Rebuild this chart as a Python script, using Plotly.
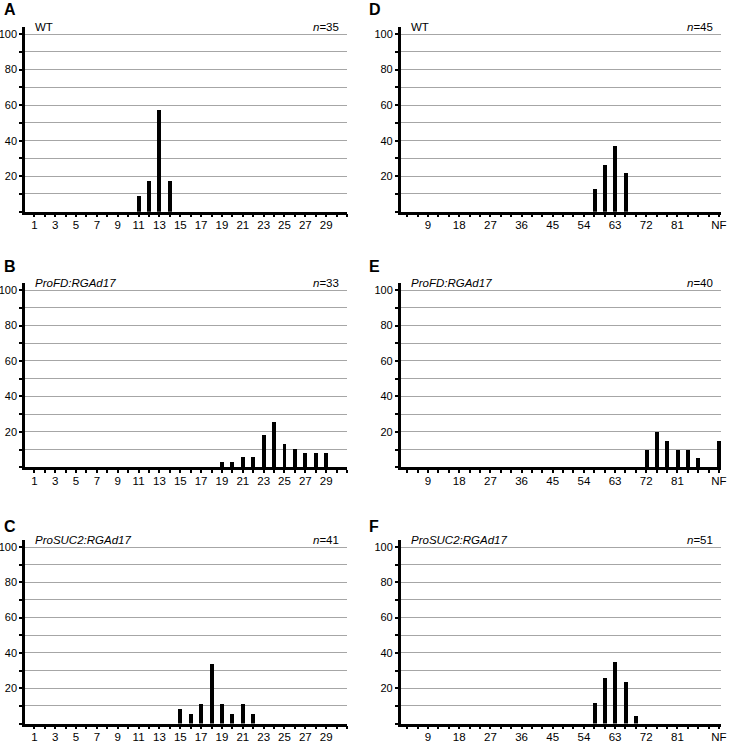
import plotly.graph_objects as go

W, H = 730, 745
FONT = "Arial, Liberation Sans, sans-serif"

# percentage of plants per bin
a_days = [11, 12, 13, 14]
a_pct = [8.6, 17.1, 57.1, 17.1]
b_days = [19, 20, 21, 22, 23, 24, 25, 26, 27, 28, 29]
b_pct = [3.0, 3.0, 5.6, 5.6, 18.0, 25.5, 13.1, 10.6, 8.0, 8.0, 8.0]
c_days = [15, 16, 17, 18, 19, 20, 21, 22]
c_pct = [8.5, 5.6, 11.1, 34.0, 11.1, 5.6, 11.1, 5.6]

d_bins = [57, 60, 63, 66]
d_pct = [12.9, 26.1, 37.1, 22.0]
e_bins = [72, 75, 78, 81, 84, 87, "NF"]
e_pct = [10.0, 20.0, 15.0, 10.0, 10.0, 5.0, 15.0]
f_bins = [57, 60, 63, 66, 69]
f_pct = [11.9, 25.6, 35.0, 23.5, 4.0]

left_ticks = [1, 3, 5, 7, 9, 11, 13, 15, 17, 19, 21, 23, 25, 27, 29]
right_ticks = [9, 18, 27, 36, 45, 54, 63, 72, 81, "NF"]
y_ticks = [20, 40, 60, 80, 100]

panels = [
    ("A", "WT", "35", a_days, a_pct, "left", 0),
    ("B", "ProFD:RGAd17", "33", b_days, b_pct, "left", 1),
    ("C", "ProSUC2:RGAd17", "41", c_days, c_pct, "left", 2),
    ("D", "WT", "45", d_bins, d_pct, "right", 0),
    ("E", "ProFD:RGAd17", "40", e_bins, e_pct, "right", 1),
    ("F", "ProSUC2:RGAd17", "51", f_bins, f_pct, "right", 2),
]

NF_POS = 93
rows_px = [(27, 211.7), (283, 467.3), (540, 723.5)]
cols_px = {"left": (25, 347), "right": (400.7, 721)}
letter_y = [10, 266, 526]
letter_x = {"left": 2, "right": 367}


def pos(v):
    return NF_POS if v == "NF" else v


fig = go.Figure()
for i, (letter, label, n, xs, ys, side, row) in enumerate(panels):
    k = "" if i == 0 else str(i + 1)
    fig.add_trace(go.Bar(x=[pos(v) for v in xs], y=ys,
                         width=0.38 if side == "left" else 1.15,
                         marker=dict(color="black", line_width=0),
                         xaxis="x" + k, yaxis="y" + k, showlegend=False))
    top, bot = rows_px[row]
    x0, x1 = cols_px[side]
    if side == "left":
        xr = [0.1, 31.0]
        tv, tt, mdt = left_ticks, [str(t) for t in left_ticks], 1
    else:
        xr = [1.1, 93.6]
        tv, tt, mdt = [pos(t) for t in right_ticks], [str(t) for t in right_ticks], 3
    fig.update_layout(**{
        "xaxis" + k: dict(domain=[x0 / W, x1 / W], anchor="y" + k, range=xr,
                          automargin=False,
                          tickmode="array", tickvals=tv, ticktext=tt,
                          ticks="outside", ticklen=3, tickwidth=2, tickcolor="black",
                          ticklabelstandoff=-2,
                          minor=dict(dtick=mdt, tick0=0, ticks="outside", ticklen=3,
                                     tickwidth=2, tickcolor="black"),
                          showline=True, linecolor="black", linewidth=2.5,
                          showgrid=False, zeroline=False,
                          tickfont=dict(family=FONT, size=11.5, color="black")),
        "yaxis" + k: dict(domain=[1 - bot / H, 1 - top / H], anchor="x" + k, range=[0, 104],
                          automargin=False,
                          tickmode="array", tickvals=y_ticks,
                          ticks="outside", ticklen=3, tickwidth=2, tickcolor="black",
                          minor=dict(dtick=10, tick0=0, ticks="outside", ticklen=3,
                                     tickwidth=2, tickcolor="black", showgrid=True,
                                     gridcolor="#a6a6a6", gridwidth=1),
                          showgrid=True, gridcolor="#a6a6a6", gridwidth=1,
                          showline=True, linecolor="black", linewidth=2.5,
                          zeroline=False,
                          tickfont=dict(family=FONT, size=11, color="black")),
    })
    italic = label != "WT"
    fig.add_annotation(text=f"<i>{label}</i>" if italic else label,
                       xref="x" + k + " domain", yref="y" + k + " domain",
                       x=0.025, y=1.0, xanchor="left", yanchor="middle", showarrow=False,
                       font=dict(family=FONT, size=11.5, color="black"))
    fig.add_annotation(text=f"<i>n</i>={n}",
                       xref="x" + k + " domain", yref="y" + k + " domain",
                       x=0.98, y=1.0, xanchor="right", yanchor="middle", showarrow=False,
                       font=dict(family=FONT, size=11.5, color="black"))
    fig.add_annotation(text=f"<b>{letter}</b>", xref="paper", yref="paper",
                       x=letter_x[side] / W, y=1 - letter_y[row] / H,
                       xanchor="left", yanchor="middle", showarrow=False,
                       font=dict(family=FONT, size=16, color="black"))

fig.update_layout(width=W, height=H, margin=dict(l=0, r=0, t=0, b=0),
                  plot_bgcolor="white", paper_bgcolor="white", bargap=0)
fig.write_html("out.html", config={"displayModeBar": False},
               post_script="document.body.style.margin='0';")
